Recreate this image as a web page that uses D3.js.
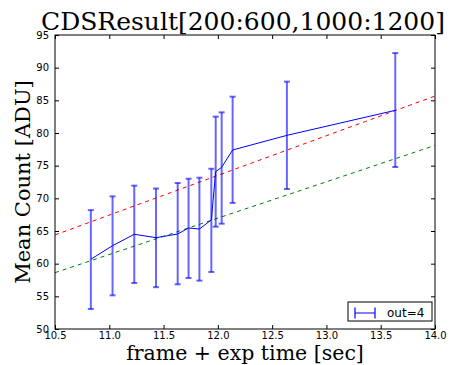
<!DOCTYPE html>
<html><head><meta charset="utf-8">
<script src="https://cdn.jsdelivr.net/npm/d3@7"></script>
<style>body{margin:0;background:#fff}</style>
</head><body><svg id="c" width="454" height="365"></svg>
<script>
const xs = [10.83, 11.03, 11.23, 11.43, 11.63, 11.73, 11.83, 11.94, 11.98, 12.035, 12.136, 12.636, 13.634];
const means = [60.67, 62.75, 64.5, 63.98, 64.54, 65.46, 65.3, 66.7, 74.08, 74.75, 77.4, 79.64, 83.47];
const upper = [68.2, 70.3, 71.94, 71.5, 72.35, 73.0, 73.16, 74.53, 82.5, 83.16, 85.56, 87.86, 92.24];
const lower = [53.06, 55.15, 57.04, 56.4, 56.84, 57.8, 57.4, 58.72, 65.66, 66.12, 69.3, 71.43, 74.8];
const fitX = [10.5, 14.0];
const redFit = [64.4, 85.66];
const greenFit = [58.62, 78.1];
const xTicks = [10.5, 11.0, 11.5, 12.0, 12.5, 13.0, 13.5, 14.0];
const yTicks = [50, 55, 60, 65, 70, 75, 80, 85, 90, 95];
const title = "CDSResult[200:600,1000:1200]";
const xLabel = "frame + exp time [sec]";
const yLabel = "Mean Count [ADU]";
const legendLabel = "out=4";

const svg = d3.select("#c");
const L = 55, R = 435, T = 35, B = 329;
const x = d3.scaleLinear().domain([10.5, 14.0]).range([L, R]);
const y = d3.scaleLinear().domain([50, 95]).range([B, T]);

// fit lines
const fitLine = d3.line().x((d,i)=>x(fitX[i])).y(d=>y(d));
svg.append("path").attr("d", fitLine(redFit)).attr("fill","none").attr("stroke","#ff0000").attr("stroke-width",1).attr("stroke-dasharray","4,4");
svg.append("path").attr("d", fitLine(greenFit)).attr("fill","none").attr("stroke","#008000").attr("stroke-width",1).attr("stroke-dasharray","4,4");

// error bars
const eb = svg.append("g").attr("stroke","#0000ff").attr("stroke-opacity",0.6);
xs.forEach((xv,i)=>{
  eb.append("line").attr("x1",x(xv)).attr("x2",x(xv)).attr("y1",y(lower[i])).attr("y2",y(upper[i])).attr("stroke-width",2);
  [lower[i], upper[i]].forEach(v=>{
    eb.append("line").attr("x1",x(xv)-3).attr("x2",x(xv)+3).attr("y1",y(v)).attr("y2",y(v)).attr("stroke-width",2);
  });
});
// mean line
const ml = d3.line().x((d,i)=>x(xs[i])).y(d=>y(d));
svg.append("path").attr("d", ml(means)).attr("fill","none").attr("stroke","#0000ff").attr("stroke-width",1);

// frame
svg.append("rect").attr("x",L).attr("y",T).attr("width",R-L).attr("height",B-T).attr("fill","none").attr("stroke","#000").attr("stroke-width",1);

// axes with inward ticks
const fmtX = d3.format(".1f");
const axB = d3.axisBottom(x).tickValues(xTicks).tickFormat(fmtX).tickSizeInner(-4).tickSizeOuter(0).tickPadding(3);
const axT = d3.axisTop(x).tickValues(xTicks).tickFormat("").tickSizeInner(-4).tickSizeOuter(0);
const axL = d3.axisLeft(y).tickValues(yTicks).tickFormat(d3.format("d")).tickSizeInner(-4).tickSizeOuter(0).tickPadding(6);
const axR = d3.axisRight(y).tickValues(yTicks).tickFormat("").tickSizeInner(-4).tickSizeOuter(0);
function style(g){ g.select(".domain").remove(); g.selectAll("text").attr("font-family","DejaVu Sans").attr("font-size",10).attr("fill","#000"); g.selectAll("line").attr("stroke","#000"); }
svg.append("g").attr("transform",`translate(0,${B})`).call(axB).call(style);
svg.append("g").attr("transform",`translate(0,${T})`).call(axT).call(style);
svg.append("g").attr("transform",`translate(${L},0)`).call(axL).call(style);
svg.append("g").attr("transform",`translate(${R},0)`).call(axR).call(style);

// labels
svg.append("text").attr("x",243).attr("y",30).attr("text-anchor","middle").attr("font-family","DejaVu Serif").attr("font-size",25).text(title);
svg.append("text").attr("x",(L+R)/2).attr("y",360).attr("text-anchor","middle").attr("font-family","DejaVu Serif").attr("font-size",20.5).text(xLabel);
svg.append("text").attr("transform",`translate(30,${(T+B)/2}) rotate(-90)`).attr("text-anchor","middle").attr("font-family","DejaVu Serif").attr("font-size",21).text(yLabel);

// legend
const lg = svg.append("g");
lg.append("rect").attr("x",348).attr("y",302).attr("width",84).attr("height",19).attr("fill","#fff").attr("stroke","#000").attr("stroke-width",1);
const lgx0 = 355, lgx1 = 375, lgy = 313;
const lgb = lg.append("g").attr("stroke","#0000ff").attr("stroke-opacity",0.6).attr("stroke-width",2);
lgb.append("line").attr("x1",lgx0).attr("x2",lgx0).attr("y1",lgy-5.5).attr("y2",lgy+5.5);
lgb.append("line").attr("x1",lgx1).attr("x2",lgx1).attr("y1",lgy-5.5).attr("y2",lgy+5.5);
lg.append("line").attr("x1",lgx0).attr("x2",lgx1).attr("y1",lgy).attr("y2",lgy).attr("stroke","#0000ff").attr("stroke-width",1);
lg.append("text").attr("x",387).attr("y",317).attr("font-family","DejaVu Sans").attr("font-size",12).text(legendLabel);
</script></body></html>
